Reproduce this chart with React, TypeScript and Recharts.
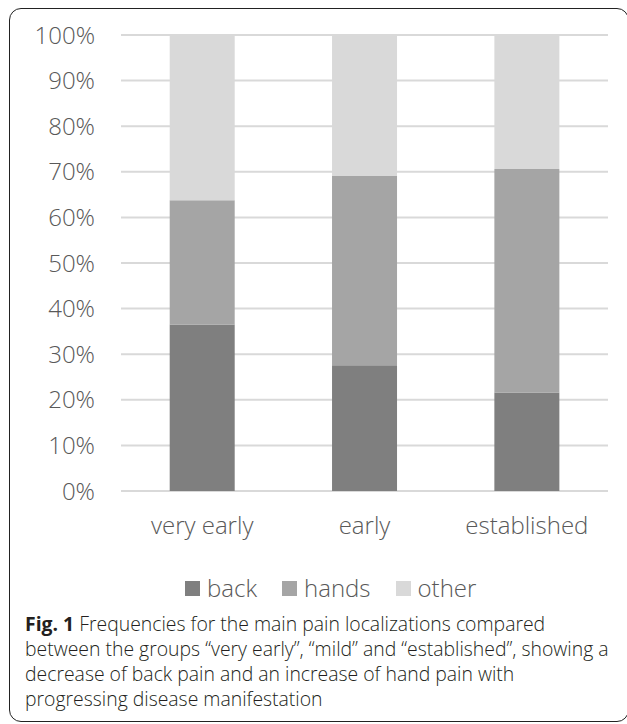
import React from "react"
import { BarChart, Bar, XAxis, YAxis, CartesianGrid, Legend } from "recharts"

// groups on the x axis
const groups = ["very early", "early", "established"]
// share of each pain localization, in percent
const back = [36.5, 27.6, 21.6]
const hands = [27.25, 41.5, 49.0]
const other = [36.25, 30.9, 29.4]
const yTicks = [0, 10, 20, 30, 40, 50, 60, 70, 80, 90, 100]

const seriesNames = ["back", "hands", "other"]
const seriesColors = ["#7f7f7f", "#a5a5a5", "#d9d9d9"]

const chartData = groups.map((g, i) => ({
    group: g,
    back: back[i],
    hands: hands[i],
    other: other[i],
}))

const FONT = "'Open Sans', 'Noto Sans', sans-serif"

function LegendRow() {
    return (
        <div style={{ display: "flex", justifyContent: "flex-start", alignItems: "center", paddingLeft: 185, height: 30, fontFamily: FONT, fontWeight: 300, fontSize: 24, lineHeight: "24px", color: "#595959" }}>
            {seriesNames.map((name, i) => (
                <div key={name} style={{ display: "flex", alignItems: "center", marginRight: i < 2 ? 25 : 0 }}>
                    <span style={{ width: 15, height: 15, background: seriesColors[i], display: "inline-block", marginRight: 7 }} />
                    <span>{name}</span>
                </div>
            ))}
        </div>
    )
}

export default function App() {
    return (
        <div style={{ position: "absolute", left: 0, top: 0, width: 627, height: 724, background: "#fff", overflow: "hidden" }}>
            {/* figure frame */}
            <div style={{ position: "absolute", left: 9, top: 8, width: 618, height: 712, border: "1.5px solid #222", borderRadius: 12 }} />

            <div style={{ position: "absolute", left: 0, top: 0 }}>
                <BarChart
                    width={627}
                    height={603}
                    data={chartData}
                    margin={{ top: 35, right: 19, left: 0, bottom: 0 }}
                    barCategoryGap="30%"
                >
                    <CartesianGrid vertical={false} stroke="#d9d9d9" strokeWidth={2} />
                    <XAxis
                        dataKey="group"
                        axisLine={false}
                        tickLine={false}
                        height={82}
                        tickMargin={20}
                        tick={{ fontSize: 24, fontWeight: 300, fill: "#595959", fontFamily: FONT }}
                    />
                    <YAxis
                        width={121}
                        domain={[0, 100]}
                        ticks={yTicks}
                        axisLine={false}
                        tickLine={false}
                        tickMargin={20}
                        tickFormatter={(v) => `${v}%`}
                        tick={{ fontSize: 24, fontWeight: 300, fill: "#595959", fontFamily: FONT }}
                    />
                    <Legend verticalAlign="bottom" height={30} content={() => <LegendRow />} />
                    <Bar dataKey="back" stackId="a" fill={seriesColors[0]} isAnimationActive={false} />
                    <Bar dataKey="hands" stackId="a" fill={seriesColors[1]} isAnimationActive={false} />
                    <Bar dataKey="other" stackId="a" fill={seriesColors[2]} isAnimationActive={false} />
                </BarChart>
            </div>

            {/* caption */}
            <div style={{ position: "absolute", left: 25, top: 611, width: 600, fontFamily: FONT, fontWeight: 300, fontSize: 19.4, lineHeight: "25px", color: "#231f20" }}>
                <b style={{ fontWeight: 700 }}>Fig. 1</b> Frequencies for the main pain localizations compared<br />
                between the groups “very early”, “mild” and “established”, showing a<br />
                decrease of back pain and an increase of hand pain with<br />
                progressing disease manifestation
            </div>
        </div>
    )
}
